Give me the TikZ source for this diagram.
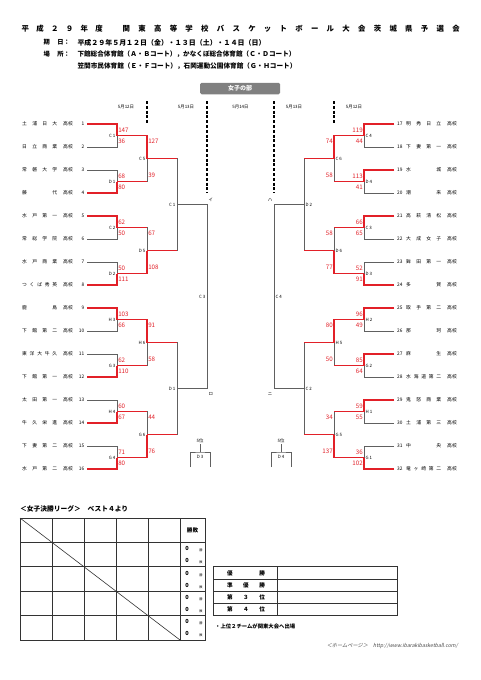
\documentclass[tikz,border=0pt]{standalone}
\usepackage{graphicx}
\usepackage{fontspec}
\setmainfont{Noto Sans CJK JP}
\newfontfamily\slfont[FakeSlant=0.2]{Noto Sans CJK JP}
\definecolor{scred}{RGB}{226,32,40}
\definecolor{bgray}{RGB}{96,96,96}
\newcommand{\spr}[2]{\makebox[#1][s]{#2}}
\newcommand{\fitw}[2]{\resizebox{#1}{!}{#2}}
\begin{document}
\begin{tikzpicture}[
x=1pt, y=-1pt,
win/.style={draw=scred, line width=1.2pt},
lose/.style={draw=bgray, line width=0.6pt},
score/.style={text=scred, font=\fontsize{6.2}{7}\selectfont, inner sep=0.6pt},
game/.style={font=\fontsize{4.4}{5}\selectfont, inner sep=1.5pt},
team/.style={font=\fontsize{4.8}{5}\selectfont, inner sep=0pt},
day/.style={font=\fontsize{4.4}{5}\selectfont, inner sep=0pt},
dline/.style={line width=1.3pt, dash pattern=on 3pt off 1.8pt},
head/.style={font=\fontsize{6.3}{7}\selectfont\bfseries, inner sep=0pt, anchor=west},
cell/.style={font=\fontsize{5.6}{6}\selectfont\bfseries, inner sep=0pt},
tbl/.style={draw=black!80, line width=0.7pt},
]
\fill[white] (0,0) rectangle (481,680);
\useasboundingbox (0,0) rectangle (481,680);

% title and header
\node[anchor=west, inner sep=0pt, font=\fontsize{7.4}{8}\selectfont\bfseries] (tA) at (21.5,28.6)
  {\spr{81pt}{平\hfill{}成\hfill{}２\hfill{}９\hfill{}年\hfill{}度}};
\node[anchor=west, inner sep=0pt, font=\fontsize{7.4}{8}\selectfont\bfseries] (tB) at (122.5,28.6)
  {\spr{337pt}{関\hfill{}東\hfill{}高\hfill{}等\hfill{}学\hfill{}校\hfill{}バ\hfill{}ス\hfill{}ケ\hfill{}ッ\hfill{}ト\hfill{}ボ\hfill{}ー\hfill{}ル\hfill{}大\hfill{}会\hfill{}茨\hfill{}城\hfill{}県\hfill{}予\hfill{}選\hfill{}会}};
\node[head] (h1) at (43.3,42.5) {期\hspace{7.5pt}日：};
\node[head] (h1t) at (77.3,42.5) {\fitw{188pt}{平成２９年５月１２日（金）・１３日（土）・１４日（日）}};
\node[head] (h2) at (43.3,54.5) {場\hspace{7.5pt}所：};
\node[head] (h2t) at (77.3,54.5) {\fitw{218pt}{下館総合体育館（Ａ・Ｂコート），かなくぼ総合体育館（Ｃ・Ｄコート）}};
\node[head] (h3t) at (77.3,66.5) {\fitw{219pt}{笠間市民体育館（Ｅ・Ｆコート），石岡運動公園体育館（Ｇ・Ｈコート）}};

% section tab
\node[fill=black!50, rounded corners=1.5pt, minimum width=80pt, minimum height=11.5pt, inner sep=0pt,
  text=white, font=\fontsize{6}{7}\selectfont\bfseries] (part) at (240,88.5) {女子の部};

% days
\node[day] (d1) at (126,106.5) {5月12日};
\node[day] (d2) at (186,106.5) {5月13日};
\node[day] (d3) at (240.5,106.5) {5月14日};
\node[day] (d4) at (294,106.5) {5月13日};
\node[day] (d5) at (354,106.5) {5月12日};
\draw[dline] (147,101) -- (147,124);
\draw[dline] (207,101) -- (207,193);
\draw[dline] (274,101) -- (274,193);
\draw[dline] (334,101) -- (334,124);

% teams
\foreach \name [count=\i] in {{土\hfill{}浦\hfill{}日\hfill{}大},{日\hfill{}立\hfill{}商\hfill{}業},
  {常\hfill{}磐\hfill{}大\hfill{}学},{藤\hfill{}代},{水\hfill{}戸\hfill{}第\hfill{}一},{常\hfill{}総\hfill{}学\hfill{}院},
  {水\hfill{}戸\hfill{}商\hfill{}業},{つ\hfill{}く\hfill{}ば\hfill{}秀\hfill{}英},{鹿\hfill{}島},
  {下\hfill{}館\hfill{}第\hfill{}二},{東\hfill{}洋\hfill{}大\hfill{}牛\hfill{}久},{下\hfill{}館\hfill{}第\hfill{}一},
  {太\hfill{}田\hfill{}第\hfill{}一},{牛\hfill{}久\hfill{}栄\hfill{}進},{下\hfill{}妻\hfill{}第\hfill{}二},
  {水\hfill{}戸\hfill{}第\hfill{}二}} {
  \pgfmathsetmacro\ty{124+23*(\i-1)}
  \node[team, anchor=west] (Ln\i) at (22,\ty) {\spr{35pt}{\name}};
  \node[team, anchor=west] (Lk\i) at (63,\ty) {高校};
  \node[team, anchor=east] (L\i) at (84.5,\ty) {\i};
  \coordinate (Lt\i) at (87,\ty);
}
\foreach \name [count=\i from 17] in {{明\hfill{}秀\hfill{}日\hfill{}立},{下\hfill{}妻\hfill{}第\hfill{}一},
  {水\hfill{}城},{潮\hfill{}来},{高\hfill{}萩\hfill{}清\hfill{}松},{大\hfill{}成\hfill{}女\hfill{}子},
  {鉾\hfill{}田\hfill{}第\hfill{}一},{多\hfill{}賀},{取\hfill{}手\hfill{}第\hfill{}二},{那\hfill{}珂},
  {麻\hfill{}生},{水\hfill{}海\hfill{}道\hfill{}第\hfill{}二},{鬼\hfill{}怒\hfill{}商\hfill{}業},
  {土\hfill{}浦\hfill{}第\hfill{}三},{中\hfill{}央},{竜\hfill{}ヶ\hfill{}崎\hfill{}第\hfill{}二}} {
  \pgfmathsetmacro\ty{124+23*(\i-17)}
  \node[team, anchor=west] (R\i) at (397,\ty) {\i};
  \node[team, anchor=west] (Rn\i) at (406,\ty) {\spr{35pt}{\name}};
  \node[team, anchor=west] (Rk\i) at (447,\ty) {高校};
  \coordinate (Rt\i) at (394,\ty);
}

% first round, left
\foreach \m/\g/\a/\b/\w in {1/C 1/147/36/1,2/D 1/68/80/2,3/C 2/62/50/1,4/D 2/50/111/2,
  5/H 3/103/66/1,6/G 3/62/110/2,7/H 4/60/67/2,8/G 4/71/80/2} {
  \pgfmathtruncatemacro\ta{2*\m-1}
  \pgfmathtruncatemacro\tb{2*\m}
  \pgfmathtruncatemacro\tw{2*\m-2+\w}
  \pgfmathsetmacro\ya{124+46*(\m-1)}
  \coordinate (L1m\m) at (117,\ya+11.5);
  \draw[lose] (Lt\ta) -| (L1m\m);
  \draw[lose] (Lt\tb) -| (L1m\m);
  \draw[win] (Lt\tw) -| (L1m\m);
  \node[score, anchor=west] (L1a\m) at (117.5,\ya+6) {\a};
  \node[score, anchor=west] (L1b\m) at (117.5,\ya+17.5) {\b};
  \node[game, anchor=east] (L1g\m) at (L1m\m) {\g};
}
% first round, right
\foreach \m/\g/\a/\b/\w in {1/C 4/119/44/1,2/D 4/113/41/1,3/C 3/66/65/1,4/D 3/52/91/2,
  5/H 2/96/49/1,6/G 2/85/64/1,7/H 1/59/55/1,8/G 1/36/102/2} {
  \pgfmathtruncatemacro\ta{16+2*\m-1}
  \pgfmathtruncatemacro\tb{16+2*\m}
  \pgfmathtruncatemacro\tw{16+2*\m-2+\w}
  \pgfmathsetmacro\ya{124+46*(\m-1)}
  \coordinate (R1m\m) at (364,\ya+11.5);
  \draw[lose] (Rt\ta) -| (R1m\m);
  \draw[lose] (Rt\tb) -| (R1m\m);
  \draw[win] (Rt\tw) -| (R1m\m);
  \node[score, anchor=east] (R1a\m) at (363.5,\ya+6) {\a};
  \node[score, anchor=east] (R1b\m) at (363.5,\ya+17.5) {\b};
  \node[game, anchor=west] (R1g\m) at (R1m\m) {\g};
}

% second round, left
\foreach \j/\g/\a/\b/\w in {1/C 5/127/39/1,2/D 5/67/108/2,3/H 6/91/58/1,4/G 6/44/76/2} {
  \pgfmathtruncatemacro\ma{2*\j-1}
  \pgfmathtruncatemacro\mb{2*\j}
  \pgfmathtruncatemacro\mw{2*\j-2+\w}
  \pgfmathsetmacro\ya{135.5+92*(\j-1)}
  \coordinate (L2m\j) at (147,\ya+23);
  \draw[lose] (L1m\ma) -| (L2m\j);
  \draw[lose] (L1m\mb) -| (L2m\j);
  \draw[win] (L1m\ma) -- (L1m\ma -| L2m\j);
  \draw[win] (L1m\mb) -- (L1m\mb -| L2m\j);
  \draw[win] (L1m\mw) -| (L2m\j);
  \node[score, anchor=west] (L2a\j) at (147.5,\ya+6) {\a};
  \node[score, anchor=west] (L2b\j) at (147.5,\ya+40) {\b};
  \node[game, anchor=east] (L2g\j) at (L2m\j) {\g};
}
% second round, right
\foreach \j/\g/\a/\b/\w in {1/C 6/74/58/1,2/D 6/58/77/2,3/H 5/80/50/1,4/G 5/34/137/2} {
  \pgfmathtruncatemacro\ma{2*\j-1}
  \pgfmathtruncatemacro\mb{2*\j}
  \pgfmathtruncatemacro\mw{2*\j-2+\w}
  \pgfmathsetmacro\ya{135.5+92*(\j-1)}
  \coordinate (R2m\j) at (334,\ya+23);
  \draw[lose] (R1m\ma) -| (R2m\j);
  \draw[lose] (R1m\mb) -| (R2m\j);
  \draw[win] (R1m\ma) -- (R1m\ma -| R2m\j);
  \draw[win] (R1m\mb) -- (R1m\mb -| R2m\j);
  \draw[win] (R1m\mw) -| (R2m\j);
  \node[score, anchor=east] (R2a\j) at (333.5,\ya+6) {\a};
  \node[score, anchor=east] (R2b\j) at (333.5,\ya+40) {\b};
  \node[game, anchor=west] (R2g\j) at (R2m\j) {\g};
}

% semi finals
\coordinate (L3m1) at (177,204.5);
\coordinate (L3m2) at (177,388.5);
\coordinate (R3m1) at (304,204.5);
\coordinate (R3m2) at (304,388.5);
\foreach \j/\k in {1/1,2/1,3/2,4/2} {
  \draw[lose] (L2m\j) -| (L3m\k);
  \draw[win] (L2m\j) -- (L2m\j -| L3m\k);
  \draw[lose] (R2m\j) -| (R3m\k);
  \draw[win] (R2m\j) -- (R2m\j -| R3m\k);
}
\node[game, anchor=east] (L3g1) at (L3m1) {C 1};
\node[game, anchor=east] (L3g2) at (L3m2) {D 1};
\node[game, anchor=west] (R3g1) at (R3m1) {D 2};
\node[game, anchor=west] (R3g2) at (R3m2) {C 2};

% to the league
\coordinate (Lf) at (207,296.5);
\coordinate (Rf) at (274,296.5);
\draw[lose] (L3m1) -| (Lf);
\draw[lose] (L3m2) -| (Lf);
\draw[lose] (R3m1) -| (Rf);
\draw[lose] (R3m2) -| (Rf);
\node[game, anchor=east] (Lfg) at (Lf) {C 3};
\node[game, anchor=west] (Rfg) at (Rf) {C 4};
\node[game, anchor=south west, inner sep=0.5pt] (mI) at (208,202) {イ};
\node[game, anchor=north west, inner sep=0.5pt] (mRo) at (208,392) {ロ};
\node[game, anchor=south east, inner sep=0.5pt] (mHa) at (273,202) {ハ};
\node[game, anchor=north east, inner sep=0.5pt] (mNi) at (273,392) {ニ};

% fifth place
\foreach \s/\x/\g in {L/200/D 3,R/281/D 4} {
  \node[game, inner sep=0pt] (p5\s) at (\x,441) {5位};
  \coordinate (b5\s) at (\x,452);
  \draw[lose] (p5\s.south) ++(0,1) -- (b5\s);
  \draw[lose] (\x-10,467) |- (b5\s) -| (\x+10,467);
  \node[game, inner sep=0pt] (g5\s) at (\x,457) {\g};
}

% league table
\node[cell, anchor=west] (lg) at (20,509) {\fitw{108pt}{＜女子決勝リーグ＞　ベスト４より}};
\draw[tbl] (20,518) rectangle (205,640);
\foreach \x in {52,84,116,148,180} \draw[tbl] (\x,518) -- (\x,640);
\foreach \y in {542.4,566.8,591.2,615.6} \draw[tbl] (20,\y) -- (205,\y);
\draw[black!80, line width=0.6pt] (20,518) -- (180,640);
\node[cell] (wl) at (192.5,530) {勝敗};
\foreach \r in {0,1,2,3} {
  \pgfmathsetmacro\yt{542.4+24.4*\r}
  \node[font=\fontsize{5.6}{6}\selectfont\bfseries, inner sep=0pt] (w\r) at (187,\yt+6.3) {0};
  \node[font=\fontsize{3.2}{4}\selectfont, inner sep=0pt] (wk\r) at (201,\yt+8) {勝};
  \node[font=\fontsize{5.6}{6}\selectfont\bfseries, inner sep=0pt] (l\r) at (187,\yt+18.3) {0};
  \node[font=\fontsize{3.2}{4}\selectfont, inner sep=0pt] (lk\r) at (201,\yt+20) {敗};
}

% results
\draw[tbl] (213,566.8) rectangle (397,615.6);
\draw[tbl] (277,566.8) -- (277,615.6);
\foreach \y in {579,591.2,603.4} \draw[tbl] (213,\y) -- (397,\y);
\foreach \t/\n/\y in {{優\hfill{}\hfill{}勝}/1/572.9,{準\hfill{}優\hfill{}勝}/2/585.1,{第\hfill{}３\hfill{}位}/3/597.3,{第\hfill{}４\hfill{}位}/4/609.5}
  \node[cell] (rk\n) at (246,\y) {\spr{38pt}{\t}};
\node[font=\fontsize{5}{6}\selectfont\bfseries, anchor=west, inner sep=0pt] (nt) at (215,626)
  {\fitw{80pt}{・上位２チームが関東大会へ出場}};
\node[font=\fontsize{4.6}{5}\selectfont\slfont, text=black!70, anchor=east, inner sep=0pt] (url) at (458,646)
  {\fitw{131pt}{＜ホームページ＞　http://www.ibarakibasketball.com/}};
\end{tikzpicture}
\end{document}
